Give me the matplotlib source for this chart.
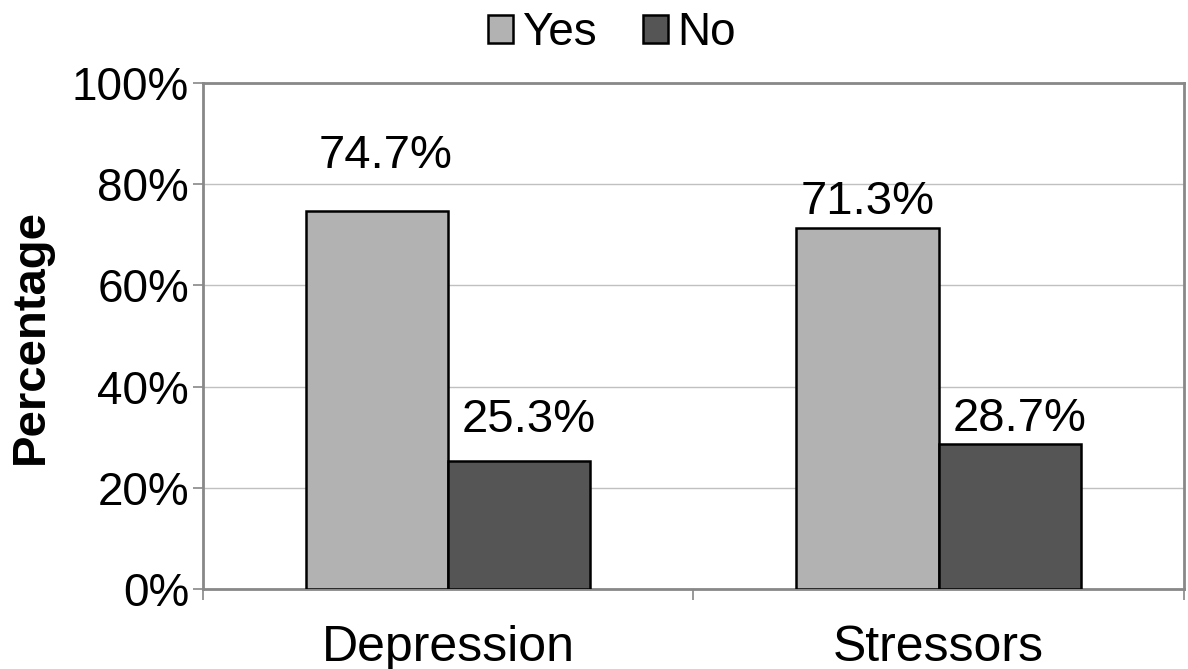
import numpy as np
import matplotlib
matplotlib.use("Agg")
import matplotlib.pyplot as plt
from matplotlib.ticker import FuncFormatter

plt.rcParams['font.family'] = ['Liberation Sans', 'DejaVu Sans']

categories = ["Depression", "Stressors"]
yes_vals = [74.7, 71.3]
no_vals = [25.3, 28.7]
series_names = ["Yes", "No"]
yticks = [0, 20, 40, 60, 80, 100]

# label offsets (points) as in the original layout
yes_off = [(6, 24), (0, 3)]
no_off = [(7, 14), (7, 2)]

fig = plt.figure(figsize=(11.88, 6.69), dpi=100)
ax = fig.add_axes([0.1709, 0.1196, 0.8257, 0.7563])

x = np.arange(len(categories))
w = 0.29
b1 = ax.bar(x - w / 2, yes_vals, w, color="#b2b2b2", edgecolor="black", linewidth=1.8,
            label=series_names[0], zorder=3)
b2 = ax.bar(x + w / 2, no_vals, w, color="#555555", edgecolor="black", linewidth=1.8,
            label=series_names[1], zorder=3)

for bars, vals, offs in [(b1, yes_vals, yes_off), (b2, no_vals, no_off)]:
    for r, v, o in zip(bars, vals, offs):
        ax.annotate(f"{v:.1f}%", (r.get_x() + r.get_width() / 2, r.get_height()),
                    xytext=o, textcoords="offset points", ha="center", va="bottom",
                    fontsize=34)

ax.set_xlim(-0.5, len(categories) - 0.5)
ax.set_ylim(0, 100)
ax.set_yticks(yticks)
ax.yaxis.set_major_formatter(FuncFormatter(lambda v, p: f"{v:.0f}%"))
ax.yaxis.grid(True, color="#c0c0c0", linewidth=1.0, zorder=0)
ax.set_axisbelow(True)

ax.set_xticks(np.arange(-0.5, len(categories), 1.0))
ax.set_xticklabels([])
ax.set_xticks(x, minor=True)
ax.set_xticklabels(categories, minor=True, fontsize=36)
ax.tick_params(axis="x", which="minor", length=0, pad=26)
ax.tick_params(axis="x", which="major", length=8, color="#888888", width=1.2)
ax.tick_params(axis="y", length=7, color="#888888", width=1.2, labelsize=33, pad=3)

for s in ax.spines.values():
    s.set_color("#888888")
    s.set_linewidth(2)

ax.set_ylabel("Percentage", fontsize=34, fontweight="bold", labelpad=14)

leg = fig.legend(handles=[b1, b2], loc="upper center", bbox_to_anchor=(0.515, 1.045),
                 ncol=2, frameon=False, fontsize=33, handlelength=0.55, handleheight=0.55,
                 handletextpad=0.2, columnspacing=1.0)

fig.savefig("out.png", dpi=100)
